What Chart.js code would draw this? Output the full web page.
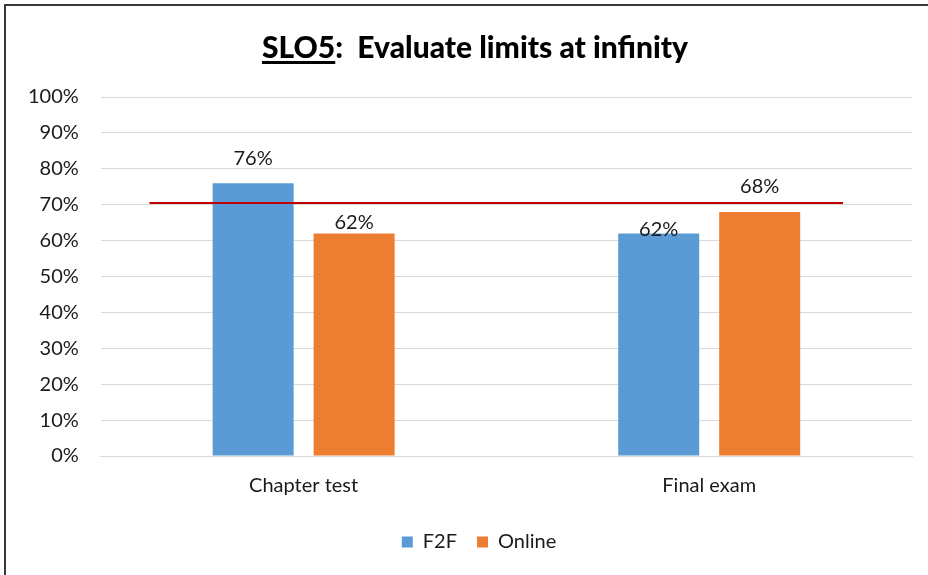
<!DOCTYPE html>
<html>
<head>
<meta charset="utf-8">
<script src="https://cdn.jsdelivr.net/npm/chart.js@4/dist/chart.umd.min.js"></script>
<style>
  html, body { margin: 0; padding: 0; background: #fff; }
  #wrap { position: relative; width: 928px; height: 575px; overflow: hidden; }
  #frame { position: absolute; left: 4px; top: 4px; width: 1000px; height: 700px;
           border-left: 2px solid #3a3a3a; border-top: 2px solid #3a3a3a; box-sizing: border-box; }
  #title { position: absolute; left: 0; width: 950px; top: 28px; text-align: center;
           font-family: Lato, "Open Sans", sans-serif; font-weight: 900; font-size: 30px; color: #000;
           white-space: pre; }
  #title u { text-decoration-thickness: 3px; text-underline-offset: 3px; }
  canvas { position: absolute; left: 0; top: 0; }
</style>
</head>
<body>
<div id="wrap">
  <div id="frame"></div>
  <canvas id="c" width="928" height="575"></canvas>
  <div id="title"><u>SLO5</u>:  Evaluate limits at infinity</div>
</div>
<script>
// ---- data ----
const categories = ["Chapter test", "Final exam"];
const seriesNames = ["F2F", "Online"];
const f2fValues = [76, 62];
const onlineValues = [62, 68];
const yTicks = [0, 10, 20, 30, 40, 50, 60, 70, 80, 90, 100];
const targetValue = 70.5;
const targetSpan = [-0.38, 1.33]; // in category units (index scale)

// label offsets (styling, pixels above bar top)
const labelOffsets = { 0: [18, -3], 1: [4, 19] };

const FONT = 'Lato, "Open Sans", sans-serif';
const TXT = '#1a1a1a';

const targetLine = {
  id: 'targetLine',
  afterDatasetsDraw(chart) {
    const { ctx, scales: { x, y } } = chart;
    const x0 = x.getPixelForValue(targetSpan[0]);
    const x1 = x.getPixelForValue(targetSpan[1]);
    const yy = y.getPixelForValue(targetValue);
    ctx.save();
    ctx.strokeStyle = '#C00000';
    ctx.lineWidth = 2;
    ctx.beginPath();
    ctx.moveTo(x0, yy);
    ctx.lineTo(x1, yy);
    ctx.stroke();
    ctx.restore();
  }
};

const dataLabels = {
  id: 'dataLabels',
  afterDatasetsDraw(chart) {
    const ctx = chart.ctx;
    ctx.save();
    ctx.font = '20px ' + FONT;
    ctx.fillStyle = TXT;
    ctx.textAlign = 'center';
    ctx.textBaseline = 'alphabetic';
    chart.data.datasets.forEach((ds, di) => {
      const meta = chart.getDatasetMeta(di);
      meta.data.forEach((bar, i) => {
        const off = (labelOffsets[di] || [])[i] ?? 5;
        ctx.fillText(ds.data[i] + '%', bar.x, bar.y - off);
      });
    });
    ctx.restore();
  }
};

// nudge the legend to where the reference has it
const legendShift = {
  id: 'legendShift',
  afterLayout(chart) {
    const lg = chart.legend;
    if (lg) { lg.left += 20; lg.right += 20; lg.top += 4; lg.bottom += 4; }
  }
};

new Chart(document.getElementById('c'), {
  type: 'bar',
  data: {
    labels: categories,
    datasets: [
      { label: seriesNames[0], data: f2fValues, backgroundColor: '#5B9BD5' },
      { label: seriesNames[1], data: onlineValues, backgroundColor: '#ED7D31' }
    ]
  },
  options: {
    responsive: false,
    animation: false,
    devicePixelRatio: 1,
    datasets: { bar: { categoryPercentage: 0.498, barPercentage: 0.802 } },
    layout: { padding: { top: 97, right: 16, left: 6, bottom: 17 } },
    scales: {
      x: {
        grid: { display: false },
        border: { color: '#D9D9D9' },
        ticks: { font: { family: FONT, size: 20 }, color: TXT, padding: 10 }
      },
      y: {
        min: 0, max: 100,
        afterBuildTicks(axis) { axis.ticks = yTicks.map(v => ({ value: v })); },
        ticks: { callback: v => v + '%', font: { family: FONT, size: 20 }, color: TXT, padding: 22 },
        grid: { color: '#D9D9D9', drawTicks: false },
        border: { display: false }
      }
    },
    plugins: {
      title: { display: false },
      tooltip: { enabled: false },
      legend: {
        position: 'bottom',
        labels: {
          boxWidth: 11, boxHeight: 11, padding: 20,
          font: { family: FONT, size: 20 }, color: TXT
        }
      }
    }
  },
  plugins: [targetLine, dataLabels, legendShift]
});
</script>
</body>
</html>
